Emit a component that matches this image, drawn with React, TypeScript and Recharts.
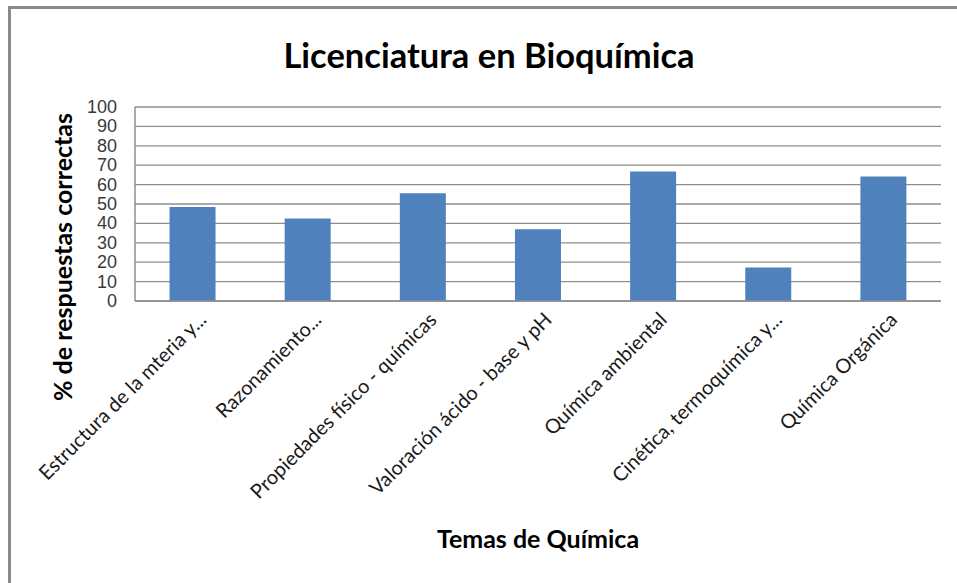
import React from "react";
import { BarChart, Bar, XAxis, YAxis, CartesianGrid, Label } from "recharts";

const categories = [
  "Estructura de la mteria y...",
  "Razonamiento...",
  "Propiedades físico - químicas",
  "Valoración ácido - base y pH",
  "Química ambiental",
  "Cinética, termoquímica y...",
  "Química Orgánica",
];
const values = [48.5, 42.5, 55.5, 37, 66.7, 17.3, 64.2];
const yTicks = [0, 10, 20, 30, 40, 50, 60, 70, 80, 90, 100];

const title = "Licenciatura en Bioquímica";
const yTitle = "% de respuestas correctas";
const xTitle = "Temas de Química";

const data = categories.map((c, i) => ({ name: c, value: values[i] }));

const GRID = "#8e8e8e";

const XTick = (props: any) => {
  const { x, y, payload } = props;
  const ax = x + 15;
  const ay = y + 12;
  return (
    <text
      x={ax}
      y={ay}
      textAnchor="end"
      transform={`rotate(-45, ${ax}, ${ay})`}
      fontFamily="Lato, 'Open Sans', sans-serif"
      fontSize={20}
      fill="#1a1a1a"
    >
      {payload.value}
    </text>
  );
};

const YTick = (props: any) => {
  const { y, payload } = props;
  return (
    <text
      x={117}
      y={y}
      textAnchor="end"
      dominantBaseline="central"
      fontFamily="'Liberation Sans', Arial, sans-serif"
      fontSize={18}
      fill="#3a3a3a"
    >
      {payload.value}
    </text>
  );
};

export default function App() {
  return (
    <div
      style={{
        position: "absolute",
        left: 0,
        top: 0,
        width: 957,
        height: 583,
        overflow: "hidden",
        background: "#fff",
      }}
    >
      <div
        style={{
          position: "absolute",
          left: 8,
          top: 6,
          width: 1100,
          height: 1100,
          border: "3px solid #8a8a8a",
          boxSizing: "border-box",
        }}
      />
      <div
        style={{
          position: "absolute",
          left: 0,
          top: 33,
          width: 978,
          textAlign: "center",
          fontFamily: "Lato, 'Open Sans', sans-serif",
          fontWeight: 700,
          fontSize: 34.5,
          color: "#000",
          lineHeight: "44px",
        }}
      >
        {title}
      </div>
      <div style={{ position: "absolute", left: 0, top: 0 }}>
        <BarChart
          width={957}
          height={583}
          data={data}
          margin={{ top: 107, right: 16, left: 0, bottom: 0 }}
          barCategoryGap="30%"
        >
          <CartesianGrid vertical={false} stroke={GRID} strokeWidth={1.3} />
          <XAxis
            dataKey="name"
            height={282}
            interval={0}
            tickLine={false}
            axisLine={{ stroke: GRID, strokeWidth: 1.5 }}
            tick={<XTick />}
          >
            <Label
              content={() => (
                <text
                  x={538}
                  y={538}
                  textAnchor="middle"
                  dominantBaseline="central"
                  fontFamily="Lato, 'Open Sans', sans-serif"
                  fontWeight={700}
                  fontSize={25}
                  fill="#000"
                >
                  {xTitle}
                </text>
              )}
            />
          </XAxis>
          <YAxis
            width={135}
            domain={[0, 100]}
            ticks={yTicks}
            interval={0}
            tickLine={false}
            axisLine={{ stroke: GRID, strokeWidth: 1.5 }}
            tick={<YTick />}
          >
            <Label
              content={() => (
                <text
                  x={62}
                  y={257}
                  textAnchor="middle"
                  dominantBaseline="central"
                  transform="rotate(-90, 62, 257)"
                  fontFamily="Lato, 'Open Sans', sans-serif"
                  fontWeight={700}
                  fontSize={25}
                  fill="#000"
                >
                  {yTitle}
                </text>
              )}
            />
          </YAxis>
          <Bar dataKey="value" fill="#4F81BD" isAnimationActive={false} />
        </BarChart>
      </div>
    </div>
  );
}
